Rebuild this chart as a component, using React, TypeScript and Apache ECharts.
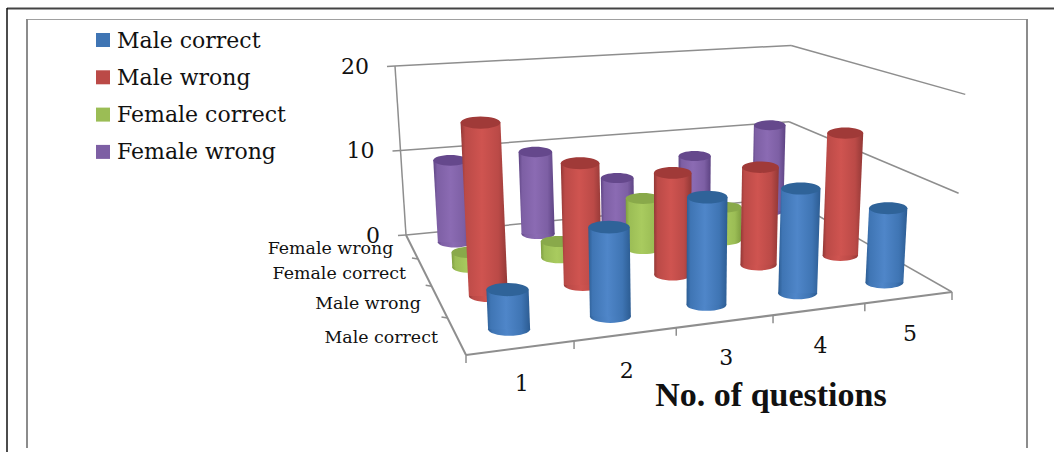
import React, { useEffect, useRef } from "react";
import * as echarts from "echarts";

const questions = ["1", "2", "3", "4", "5"];
const rows = ["Male correct", "Male wrong", "Female correct", "Female wrong"];
const maleCorrect = [3.7, 8.6, 10.6, 10.6, 7.7];
const maleWrong = [17.5, 12.6, 10.8, 10.6, 13.6];
const femaleCorrect = [1.6, 1.8, 5.7, 3.8, 2];
const femaleWrong = [9.5, 9.7, 5.8, 7.7, 10.8];
const valueTicks = [0, 10, 20];
const seriesValues = [maleCorrect, maleWrong, femaleCorrect, femaleWrong];

const palette = [
  { edge: "#2c5c92", mid: "#3f75b4", light: "#4f86c9", top: "#2f6399" },
  { edge: "#923836", mid: "#bb4a47", light: "#cf5450", top: "#a03a38" },
  { edge: "#7d9c3f", mid: "#9bbd55", light: "#a9cb5f", top: "#89a94a" },
  { edge: "#5d4383", mid: "#7d5fa4", light: "#8b6bb3", top: "#65488c" },
];

// Floor quad of the 3D plot box (front-left, front-right, back-right, back-left)
const Q = [[466, 355], [952, 292], [787, 198], [406, 235]];
const FONT = "DejaVu Serif";
const TITLE_FONT = "Liberation Serif";
const GRID = { left: 0, top: 0, width: 100, height: 100 };
const AXIS_COLOR = "#8e8e8e";

const dx1 = Q[1][0] - Q[2][0], dx2 = Q[3][0] - Q[2][0], sx = Q[0][0] - Q[1][0] + Q[2][0] - Q[3][0];
const dy1 = Q[1][1] - Q[2][1], dy2 = Q[3][1] - Q[2][1], sy = Q[0][1] - Q[1][1] + Q[2][1] - Q[3][1];
const den = dx1 * dy2 - dx2 * dy1;
const hg = (sx * dy2 - dx2 * sy) / den;
const hh = (dx1 * sy - sx * dy1) / den;

function floor(u: number, v: number) {
  const w = 1 + hg * u + hh * v;
  const x = (Q[1][0] - Q[0][0] + hg * Q[1][0]) * u + (Q[3][0] - Q[0][0] + hh * Q[3][0]) * v + Q[0][0];
  const y = (Q[1][1] - Q[0][1] + hg * Q[1][1]) * u + (Q[3][1] - Q[0][1] + hh * Q[3][1]) * v + Q[0][1];
  return { x: x / w, y: y / w, w };
}
function project(u: number, v: number, z: number): [number, number] {
  const b = floor(u, v);
  const h = echarts.number.linearMap(z, [0, 20], [0, 226], false) / b.w;
  const lean = (b.x - 675) * 0.000242;
  return [b.x + lean * h, b.y - h];
}

function renderCylinder(params: any, api: any) {
  const c = api.coord([api.value(0), api.value(1)]);
  const u = (c[0] - GRID.left) / GRID.width;
  const v = (GRID.top + GRID.height - c[1]) / GRID.height;
  const value = api.value(2);
  const base = floor(u, v);
  const p0 = project(u, v, 0);
  const p1 = project(u, v, value);
  const rx0 = 22.2 / base.w;
  const rx1 = rx0 * (1 + value * 0.0014);
  const k = 0.31;
  const col = palette[params.seriesIndex];
  const grad = {
    type: "linear", x: 0, y: 0, x2: 1, y2: 0,
    colorStops: [
      { offset: 0, color: col.edge },
      { offset: 0.1, color: col.mid },
      { offset: 0.45, color: col.light },
      { offset: 0.8, color: col.mid },
      { offset: 1, color: col.edge },
    ],
  };
  return {
    type: "group",
    children: [
      { type: "ellipse", shape: { cx: p0[0], cy: p0[1], rx: rx0, ry: rx0 * k }, style: { fill: grad } },
      {
        type: "polygon",
        shape: { points: [[p1[0] - rx1, p1[1]], [p1[0] + rx1, p1[1]], [p0[0] + rx0, p0[1]], [p0[0] - rx0, p0[1]]] },
        style: { fill: grad },
      },
      { type: "ellipse", shape: { cx: p1[0], cy: p1[1], rx: rx1, ry: rx1 * k }, style: { fill: col.top } },
    ],
  };
}

const seg = (a: number[], b: number[], w = 1.5, color = AXIS_COLOR) => ({
  type: "line",
  shape: { x1: a[0], y1: a[1], x2: b[0], y2: b[1] },
  style: { stroke: color, lineWidth: w },
  silent: true,
});
const label = (text: string, x: number, y: number, size: number, align: string, weight = "normal", family = FONT) => ({
  type: "text",
  x,
  y,
  z: 10,
  silent: true,
  style: { text, fill: "#111", font: `${weight} ${size}px "${family}"`, align, verticalAlign: "middle" },
});

function buildGraphics() {
  const els: any[] = [];
  // page frame
  els.push(seg([7, 8.5], [1054, 8.5], 2, "#444"));
  els.push(seg([7, 8], [7, 452], 1.5, "#111"));
  els.push(seg([26, 19.5], [1028, 19.5], 1, "#a0a0a0"));
  els.push(seg([27, 19], [27, 448], 2, "#8c8c8c"));
  els.push(seg([1027, 19], [1027, 448], 2, "#8c8c8c"));
  // walls
  valueTicks.forEach((t) => {
    const a = project(0, 1, t), b = project(1, 1, t), c = project(1, 0, t);
    els.push(seg([a[0] - 8, a[1] + 0.5], a), seg(a, b), seg(b, c));
    els.push(label(String(t), a[0] - 26, a[1] + 0, 22, "right"));
  });
  els.push(seg(project(0, 1, 0), project(0, 1, 20)));
  // floor edges
  els.push(seg(project(0, 0, 0), project(1, 0, 0), 2));
  els.push(seg(project(0, 0, 0), project(0, 1, 0), 2));
  questions.forEach((q, i) => {
    const a = project(i / 5, 0, 0);
    els.push(seg(a, [a[0], a[1] + 8]));
    const m = project((i + 0.5) / 5, 0, 0);
    els.push(label(q, m[0] + 1, m[1] + 36, 22, "center"));
  });
  const last = project(1, 0, 0);
  els.push(seg(last, [last[0], last[1] + 8]));
  rows.forEach((r, s) => {
    const a = project(0, s / 4, 0);
    if (s > 0) els.push(seg(a, [a[0] - 6, a[1] - 1]));
    const m = project(0, (s + 0.5) / 4, 0);
    els.push(label(r, m[0] - 18.5, m[1] + 1, 17.4, "right"));
  });
  els.push(label("No. of questions", 771, 394, 34, "center", "bold", TITLE_FONT));
  return els;
}

export default function App() {
  const ref = useRef<HTMLDivElement>(null);
  useEffect(() => {
    document.body.style.margin = "0";
    const chart = echarts.init(ref.current!, undefined, { renderer: "svg" });
    chart.setOption({
      animation: false,
      backgroundColor: "#fff",
      grid: { ...GRID, show: false },
      xAxis: { type: "category", data: questions, show: false },
      yAxis: { type: "category", data: rows, show: false },
      legend: {
        data: rows,
        orient: "vertical",
        left: 96,
        top: 28,
        padding: 0,
        itemWidth: 14,
        itemHeight: 14,
        itemGap: 13.3,
        icon: "rect",
        selectedMode: false,
        textStyle: { fontFamily: FONT, fontSize: 22, lineHeight: 24, color: "#111", padding: [0, 0, 0, 2] },
      },
      graphic: { elements: buildGraphics() },
      series: rows.map((name, s) => ({
        name,
        type: "custom",
        coordinateSystem: "cartesian2d",
        z: 10 - s,
        itemStyle: { color: palette[s].mid },
        encode: { x: 0, y: 1 },
        renderItem: renderCylinder,
        data: seriesValues[s].map((val, i) => [i, s, val]),
      })),
    });
    return () => chart.dispose();
  }, []);
  return <div ref={ref} style={{ width: 1054, height: 452 }} />;
}
